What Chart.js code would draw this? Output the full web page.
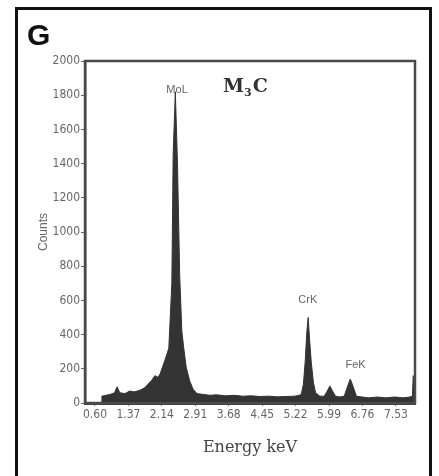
<!DOCTYPE html>
<html>
<head>
<meta charset="utf-8">
<script src="https://cdn.jsdelivr.net/npm/chart.js@4"></script>
<style>
  html, body { margin: 0; padding: 0; background: #fff; }
  canvas { display: block; }
</style>
</head>
<body>
<canvas id="chart" width="439" height="476"></canvas>
<script>
// spectrum (keV, counts)
var energies = [0.74, 0.76, 0.85, 0.95, 1.05, 1.11, 1.17, 1.29, 1.40, 1.50,
    1.64, 1.75, 1.82, 1.90, 1.98, 2.05, 2.10, 2.21, 2.30, 2.37,
    2.40, 2.45, 2.50, 2.55, 2.60, 2.64, 2.70, 2.78, 2.86, 2.95,
    3.10, 3.25, 3.40, 3.60, 3.80, 4.00, 4.20, 4.40, 4.60, 4.80,
    5.00, 5.20, 5.30, 5.35, 5.40, 5.44, 5.48, 5.51, 5.54, 5.58,
    5.63, 5.68, 5.78, 5.88, 5.95, 6.01, 6.07, 6.14, 6.24, 6.34,
    6.42, 6.48, 6.54, 6.62, 6.75, 6.90, 7.10, 7.30, 7.50, 7.70,
    7.85, 7.91, 7.93, 7.96];
var counts = [0, 40, 45, 50, 60, 95, 60, 55, 70, 65,
    75, 90, 110, 130, 160, 150, 170, 250, 320, 700,
    1450, 1820, 1400, 750, 420, 330, 210, 130, 80, 55,
    50, 45, 48, 42, 45, 40, 42, 38, 40, 36,
    38, 40, 45, 50, 110, 240, 420, 500, 380, 240,
    120, 60, 40, 40, 70, 100, 70, 40, 35, 40,
    100, 140, 100, 40, 35, 30, 35, 30, 35, 30,
    35, 40, 160, 150];

var xTickLabels = ['0.60', '1.37', '2.14', '2.91', '3.68', '4.45', '5.22', '5.99', '6.76', '7.53'];

// peak labels: name, energy, counts where the label sits
var peakNames = ['MoL', 'CrK', 'FeK'];
var peakLabelEnergy = [2.49, 5.50, 6.60];
var peakLabelCounts = [1830, 600, 225];

var points = [];
for (var i = 0; i < energies.length; i++) {
    points.push({x: energies[i], y: counts[i]});
}

var framePlugin = {
    id: 'frame',
    beforeDraw: function(chart) {
        var ctx = chart.ctx;
        ctx.save();
        ctx.fillStyle = '#fff';
        ctx.fillRect(0, 0, chart.width, chart.height);
        // outer panel frame
        ctx.strokeStyle = '#111';
        ctx.lineWidth = 3;
        ctx.strokeRect(16.5, 8.5, 414, 520);
        ctx.fillStyle = '#111';
        ctx.font = 'bold 30px "Liberation Sans", Arial, sans-serif';
        ctx.textBaseline = 'alphabetic';
        ctx.fillText('G', 27, 45);
        ctx.restore();
    },
    afterDatasetsDraw: function(chart) {
        var ctx = chart.ctx;
        var a = chart.chartArea;
        var xs = chart.scales.x, ys = chart.scales.y;
        ctx.save();
        ctx.strokeStyle = '#4a4a4a';
        ctx.lineWidth = 2.5;
        ctx.strokeRect(a.left, a.top, a.right - a.left, a.bottom - a.top);

        // title M3C
        ctx.fillStyle = '#333';
        ctx.textBaseline = 'alphabetic';
        var tx = a.left + 138, ty = a.top + 31;
        ctx.font = 'bold 19px "DejaVu Serif", serif';
        ctx.fillText('M', tx, ty);
        var w = ctx.measureText('M').width;
        ctx.font = 'bold 11px "DejaVu Serif", serif';
        ctx.fillText('3', tx + w, ty + 4);
        var w2 = ctx.measureText('3').width;
        ctx.font = 'bold 19px "DejaVu Serif", serif';
        ctx.fillText('C', tx + w + w2 + 1, ty);

        // peak labels
        ctx.fillStyle = '#666';
        ctx.font = '11px "Liberation Sans", Arial, sans-serif';
        ctx.textAlign = 'center';
        ctx.textBaseline = 'middle';
        for (var i = 0; i < peakNames.length; i++) {
            ctx.fillText(peakNames[i], xs.getPixelForValue(peakLabelEnergy[i]), ys.getPixelForValue(peakLabelCounts[i]));
        }
        ctx.restore();
    }
};

var ctx = document.getElementById('chart').getContext('2d');
new Chart(ctx, {
    type: 'line',
    data: {
        datasets: [{
            data: points,
            fill: 'origin',
            backgroundColor: '#333',
            borderColor: '#333',
            borderWidth: 1,
            pointRadius: 0,
            tension: 0
        }]
    },
    options: {
        responsive: false,
        animation: false,
        layout: { padding: { left: 36, top: 61, right: 24, bottom: 0 } },
        plugins: {
            legend: { display: false },
            tooltip: { enabled: false }
        },
        scales: {
            x: {
                type: 'linear',
                min: 0.37,
                max: 7.97,
                afterBuildTicks: function(scale) {
                    scale.ticks = xTickLabels.map(function(t) { return {value: parseFloat(t)}; });
                },
                afterFit: function(scale) { scale.height = 73; },
                ticks: {
                    autoSkip: false,
                    maxRotation: 0,
                    padding: 2,
                    color: '#666',
                    font: { family: '"Liberation Sans Narrow", "DejaVu Sans Condensed", sans-serif', size: 12 },
                    callback: function(v) { return v.toFixed(2); }
                },
                grid: { display: true, drawOnChartArea: false, drawTicks: true, tickLength: 3, color: '#777' },
                border: { display: true, color: '#444', width: 3 },
                title: {
                    display: true,
                    text: 'Energy keV',
                    color: '#444',
                    font: { family: '"DejaVu Serif", serif', size: 16 },
                    padding: { top: 0, bottom: 19 }
                }
            },
            y: {
                min: 0,
                max: 2000,
                afterFit: function(scale) { scale.width = 49; },
                ticks: {
                    stepSize: 200,
                    padding: 1,
                    color: '#666',
                    font: { family: '"Liberation Sans Narrow", "DejaVu Sans Condensed", sans-serif', size: 12 },
                    callback: function(v) { return String(v); }
                },
                grid: { display: true, drawOnChartArea: false, drawTicks: true, tickLength: 4, color: '#666' },
                border: { display: true, color: '#4a4a4a', width: 2.5 },
                title: {
                    display: true,
                    text: 'Counts',
                    color: '#666',
                    font: { family: '"Liberation Sans", Arial, sans-serif', size: 12 },
                    padding: { top: 0, bottom: 0 }
                }
            }
        }
    },
    plugins: [framePlugin]
});
</script>
</body>
</html>
